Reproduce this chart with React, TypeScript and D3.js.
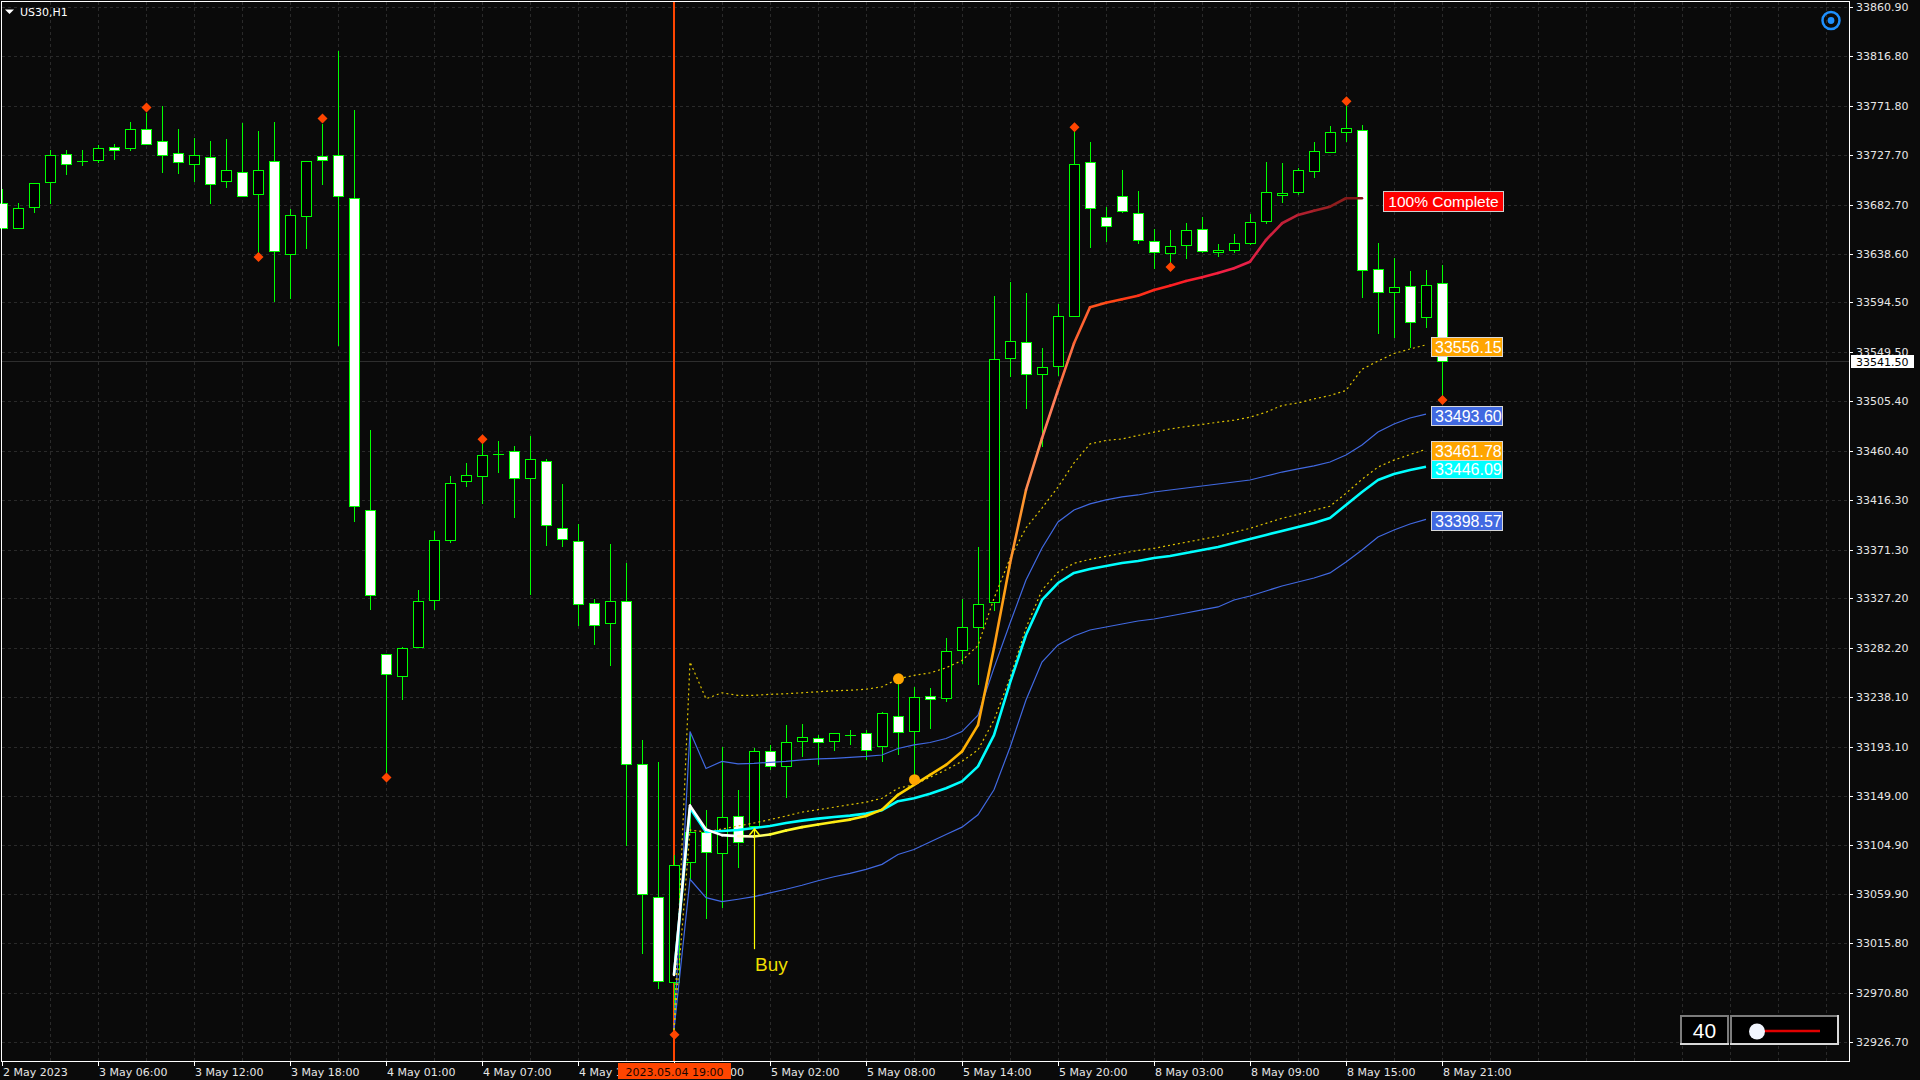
import React from "react";
import * as d3 from "d3";

// ---------- DATA ----------
const opens = [33684.3,33661.6,33680.4,33703.2,33728.5,33722.3,33722.9,33735.1,33733.8,33751.3,
33740.4,33729.8,33719.3,33725.9,33704.4,33711.9,33692.3,33722.0,33638.0,33672.9,
33726.4,33727.6,33688.3,33407.4,33276.9,33257.6,33283.7,33325.4,33379.9,33433.5,
33437.5,33457.8,33460.0,33436.0,33451.6,33391.1,33379.1,33322.9,33304.7,33324.7,
33177.4,33057.7,32981.2,33089.3,33116.2,33097.4,33131.1,33121.7,33189.0,33176.0,
33198.9,33201.1,33198.9,33204.3,33205.6,33193.5,33221.3,33207.9,33239.3,33237.5,
33280.2,33301.3,33324.2,33544.0,33558.4,33530.1,33537.3,33582.5,33721.5,33671.6,
33690.5,33675.2,33649.9,33638.8,33646.0,33661.0,33639.7,33641.5,33647.8,33668.0,
33691.2,33693.9,33713.1,33730.3,33748.0,33750.4,33624.4,33603.6,33609.0,33581.0,
33612.0];
const highs = [33696.6,33683.9,33702.7,33732.5,33732.5,33732.5,33736.4,33737.3,33757.0,33765.7,
33771.4,33751.3,33742.5,33739.9,33741.6,33756.1,33749.6,33757.0,33679.1,33722.4,
33755.6,33821.4,33768.2,33479.3,33277.2,33283.4,33335.2,33388.5,33437.5,33449.5,
33466.5,33469.4,33464.4,33473.8,33453.4,33430.2,33394.7,33326.5,33376.5,33359.6,
33199.2,33179.3,33095.6,33206.1,33136.5,33192.6,33154.4,33191.7,33194.9,33212.8,
33213.7,33203.8,33206.1,33208.3,33208.3,33224.9,33254.6,33247.4,33246.5,33291.4,
33326.4,33373.2,33600.3,33612.9,33603.0,33553.0,33592.8,33748.6,33739.0,33680.9,
33713.7,33695.3,33661.0,33660.1,33666.4,33671.8,33647.5,33656.0,33674.6,33721.0,
33720.1,33716.1,33739.3,33753.7,33772.1,33754.6,33648.4,33634.3,33622.8,33623.7,
33628.2];
const lows = [33660.7,33660.3,33675.2,33683.5,33709.3,33717.6,33720.2,33722.9,33731.6,33737.3,
33711.5,33710.1,33703.2,33683.5,33697.9,33690.0,33638.8,33595.1,33597.3,33642.3,
33700.6,33554.8,33396.5,33317.1,33167.2,33235.4,33283.0,33316.3,33376.9,33427.7,
33412.1,33440.4,33399.8,33330.1,33374.4,33373.3,33302.6,33284.8,33266.6,33103.8,
33006.5,32974.2,32935.0,33073.6,33037.7,33048.0,33083.5,33104.6,33172.4,33146.8,
33183.7,33176.9,33189.0,33194.9,33181.4,33179.2,33185.8,33163.5,33209.7,33234.0,
33268.0,33248.8,33316.1,33527.4,33498.2,33464.2,33528.0,33581.5,33643.9,33649.3,
33674.9,33646.9,33624.9,33629.8,33633.9,33638.8,33635.7,33639.1,33646.6,33665.0,
33683.9,33691.2,33706.5,33729.8,33739.3,33598.2,33565.7,33562.1,33553.0,33571.1,
33507.9];
const closes = [33661.6,33679.5,33702.3,33727.6,33719.3,33721.8,33734.2,33732.1,33751.3,33737.8,
33727.6,33721.5,33727.2,33701.4,33714.1,33690.4,33714.1,33641.1,33673.4,33722.0,
33723.3,33690.4,33411.0,33330.1,33258.7,33282.3,33324.7,33380.2,33431.7,33438.3,
33456.3,33457.6,33436.0,33453.4,33393.6,33380.9,33322.2,33302.9,33324.7,33177.4,
33060.6,32981.9,33086.7,33116.2,33098.3,33129.8,33107.3,33189.0,33175.6,33198.0,
33202.0,33198.0,33205.6,33203.8,33190.4,33223.6,33207.0,33238.4,33236.6,33279.3,
33301.3,33321.9,33543.8,33559.4,33529.6,33535.9,33581.9,33719.7,33679.7,33663.5,
33677.0,33650.8,33639.7,33645.4,33659.8,33640.6,33641.8,33648.4,33667.1,33694.4,
33693.5,33713.7,33730.9,33748.0,33752.2,33623.5,33603.6,33608.1,33576.5,33610.2,
33541.5];

const timeLabelBars = [0,6,12,18,24,30,36,42,48,54,60,66,72,78,84,90];
const timeLabels = ["2 May 2023","3 May 06:00","3 May 12:00","3 May 18:00","4 May 01:00","4 May 07:00",
"4 May 13:00","4 May 19:00","5 May 02:00","5 May 08:00","5 May 14:00","5 May 20:00",
"8 May 03:00","8 May 09:00","8 May 15:00","8 May 21:00"];
// parts of the time labels left visible around the anchor-date box
const visibleLabelText = ["2 May 2023","3 May 06:00","3 May 12:00","3 May 18:00","4 May 01:00","4 May 07:00",
"4 May 1","00","5 May 02:00","5 May 08:00","5 May 14:00","5 May 20:00",
"8 May 03:00","8 May 09:00","8 May 15:00","8 May 21:00"];
const priceTicks = [33860.9,33816.8,33771.8,33727.7,33682.7,33638.6,33594.5,33549.5,33505.4,33460.4,
33416.3,33371.3,33327.2,33282.2,33238.1,33193.1,33149.0,33104.9,33059.9,33015.8,32970.8,32926.7];

// indicator lines start at the anchor bar
const lineStart = 42;
const upperBand = [32937.5,33207.0,33173.7,33180.1,33177.8,33178.3,33179.2,33180.1,33181.4,33182.3,
33182.8,33183.6,33184.5,33185.8,33191.7,33194.9,33197.1,33200.7,33207.0,33221.8,
33264.5,33304.8,33343.8,33372.7,33396.2,33407.0,33412.5,33416.1,33418.8,33420.6,
33423.3,33425.1,33426.9,33428.7,33430.5,33432.3,33434.1,33437.7,33441.3,33444.1,
33446.8,33450.4,33456.7,33465.7,33477.5,33484.7,33490.1,33493.6];
const vwapLine = [32987.2,33138.0,33116.3,33117.2,33118.1,33119.9,33121.7,33124.4,33126.6,33128.4,
33129.8,33131.1,33132.9,33136.0,33144.1,33146.8,33150.8,33155.8,33162.0,33175.6,
33203.8,33251.0,33294.2,33325.8,33341.1,33350.2,33353.8,33356.5,33359.2,33361.0,
33363.7,33365.5,33368.2,33370.9,33373.6,33377.2,33380.9,33384.5,33388.1,33391.7,
33395.3,33399.8,33411.6,33423.3,33434.1,33439.5,33443.2,33446.09];
const lowerDotted = [32937.5,33118.1,33116.3,33119.0,33121.7,33124.4,33127.5,33130.7,33134.3,33136.5,
33138.7,33141.0,33143.2,33146.8,33155.8,33158.9,33165.7,33172.4,33180.1,33190.4,
33217.4,33255.4,33300.5,33334.8,33350.9,33358.9,33362.5,33365.2,33367.9,33370.6,
33372.4,33375.2,33377.9,33380.6,33383.3,33386.9,33390.5,33395.0,33399.5,33403.1,
33406.8,33410.4,33422.1,33434.8,33445.8,33452.1,33457.1,33461.78];
const upperDotted = [32937.5,33269.8,33236.6,33242.0,33239.7,33239.7,33240.6,33241.1,33242.0,33242.9,
33243.8,33244.3,33245.2,33247.4,33254.6,33257.7,33260.0,33264.5,33271.2,33284.7,
33327.3,33363.3,33390.8,33408.8,33427.8,33449.5,33466.7,33469.8,33471.2,33474.3,
33477.3,33480.2,33482.4,33484.2,33486.3,33488.1,33490.8,33495.3,33501.4,33503.7,
33507.3,33510.4,33514.9,33534.1,33541.5,33548.3,33552.4,33556.15];
const lowerBand = [32937.5,33073.6,33057.0,33053.4,33055.6,33057.9,33061.4,33064.6,33068.2,33072.3,
33075.9,33079.0,33082.6,33087.1,33096.0,33100.5,33107.3,33114.1,33120.7,33131.9,
33154.4,33192.6,33235.5,33269.8,33285.2,33293.3,33298.7,33301.4,33304.1,33306.8,
33308.6,33311.3,33314.0,33316.8,33319.5,33325.8,33329.4,33333.9,33338.4,33342.0,
33345.6,33350.2,33360.1,33370.9,33382.7,33389.0,33394.4,33398.57];
const progressLine = [32987.2,33140.1,33118.5,33113.5,33112.6,33112.2,33114.0,33117.6,33120.7,33123.0,
33125.3,33127.5,33130.7,33136.5,33149.9,33158.9,33167.9,33176.9,33189.0,33212.8,
33282.4,33358.7,33425.1,33471.8,33515.4,33557.5,33590.0,33594.2,33597.3,33600.5,
33605.7,33609.6,33613.8,33617.1,33621.0,33625.3,33631.2,33650.8,33665.9,33673.4,
33677.3,33680.9,33688.5,33688.5];

const fractalBars = [9,16,20,24,30,42,67,73,84,90];
const fractalPrices = [33770.5,33635.4,33760.5,33165.4,33470.9,32933.3,33752.6,33626.4,33776.0,33506.4];
const signalBars = [56,57];
const signalPrices = [33254.6,33163.5];
const buyBar = 47;
const buyTop = 33119.0;
const buyBottom = 33010.5;
const currentPrice = 33541.5;
const anchorBar = 42;
const anchorText = "2023.05.04 19:00";
const labelValues = [33446.09, 33398.57, 33493.60, 33461.78, 33556.15];
const labelTexts = ["33446.09", "33398.57", "33493.60", "33461.78", "33556.15"];
const labelColors = ["#00FFFF", "#4169E1", "#4169E1", "#FFA500", "#FFA500"];
const progressStopBars = [42,46,48,55,60,63,65,67,69,73,77,80,83,85];
const progressStopColors = ["#ffffff","#ffffff","#ffff30","#ffe000","#ffb400","#ff9a1a","#ff8566","#ff6a3a","#ff4a14","#ff1e1e","#f0204a","#c8203c","#962020","#7a1414"];

// ---------- LAYOUT ----------
const W = 1920, H = 1080;
const plotRight = 1849, plotBottom = 1061;
const X = d3.scaleLinear().domain([0, 90]).range([2, 1442]);
const Y = d3.scaleLinear().domain([32926.7, 33860.9]).range([1042, 7.3]);
const axisFont = "'DejaVu Sans', sans-serif";
const boxFont = "'Liberation Sans', Arial, sans-serif";
const GREEN = "#00ff00";

export default function App() {
  const idx = d3.range(opens.length);
  const lineGen = d3.line<number>().x((_, j) => X(lineStart + j)).y((v) => Y(v));
  const progColor = d3.scaleLinear<string>().domain(progressStopBars).range(progressStopColors).interpolate(d3.interpolateRgb);
  const vGrid = d3.range(3, 120, 3).filter((b) => X(b) < plotRight - 2);
  const curY = Y(currentPrice);
  const boxL = X(anchorBar) - 56, boxR = X(anchorBar) + 57;

  return (
    <svg width={W} height={H} style={{ position: "fixed", left: 0, top: 0, display: "block" }}>
      <rect x={0} y={0} width={W} height={H} fill="#0a0a0a" />
      {/* grid */}
      <g stroke="#2a2a2a" strokeDasharray="3,3" shapeRendering="crispEdges">
        {priceTicks.map((p, i) => (
          <line key={"h" + i} x1={2} x2={plotRight} y1={Math.round(Y(p)) + 0.5} y2={Math.round(Y(p)) + 0.5} />
        ))}
        {vGrid.map((b) => (
          <line key={"v" + b} x1={X(b) + 0.5} x2={X(b) + 0.5} y1={2} y2={plotBottom} />
        ))}
      </g>
      {/* current price line */}
      <line x1={2} x2={plotRight} y1={Math.round(curY) + 0.5} y2={Math.round(curY) + 0.5} stroke="#2e2e2e" shapeRendering="crispEdges" />
      {/* anchor vertical line */}
      <line x1={X(anchorBar)} x2={X(anchorBar)} y1={2} y2={plotBottom} stroke="#ff4500" strokeWidth={2} />
      {/* candles */}
      <g shapeRendering="crispEdges">
        {idx.map((i) => {
          const cx = X(i);
          const yo = Y(opens[i]), yc = Y(closes[i]);
          const top = Math.min(yo, yc), bot = Math.max(yo, yc);
          const bull = closes[i] >= opens[i];
          const flat = bot - top < 1.5;
          return (
            <g key={"c" + i}>
              <line x1={cx + 0.5} x2={cx + 0.5} y1={Y(highs[i])} y2={Y(lows[i])} stroke={GREEN} />
              {flat ? (
                <line x1={cx - 5} x2={cx + 6} y1={Math.round(top) + 0.5} y2={Math.round(top) + 0.5} stroke={GREEN} />
              ) : (
                <rect x={cx - 4.5} y={Math.round(top) + 0.5} width={10} height={Math.round(bot) - Math.round(top)} fill={bull ? "#000" : "#fff"} stroke={GREEN} />
              )}
            </g>
          );
        })}
      </g>
      {/* bands */}
      <path d={lineGen(upperBand) || ""} fill="none" stroke="#4169E1" strokeWidth={1.2} />
      <path d={lineGen(lowerBand) || ""} fill="none" stroke="#4169E1" strokeWidth={1.2} />
      <path d={lineGen(upperDotted) || ""} fill="none" stroke="#e0c400" strokeWidth={1.2} strokeDasharray="2,3" />
      <path d={lineGen(lowerDotted) || ""} fill="none" stroke="#e0c400" strokeWidth={1.2} strokeDasharray="2,3" />
      <path d={lineGen(vwapLine) || ""} fill="none" stroke="#00ffff" strokeWidth={2.6} strokeLinejoin="round" />
      {/* progress line */}
      <g strokeWidth={2.6} strokeLinecap="round">
        {progressLine.slice(0, -1).map((v, j) => (
          <line key={"p" + j} x1={X(lineStart + j)} y1={Y(v)} x2={X(lineStart + j + 1)} y2={Y(progressLine[j + 1])} stroke={progColor(lineStart + j + 0.5)} />
        ))}
      </g>
      {/* fractals */}
      {fractalBars.map((b, i) => {
        const cx = X(b) + 0.5, cy = Y(fractalPrices[i]);
        return <polygon key={"f" + i} points={`${cx},${cy - 5} ${cx + 5},${cy} ${cx},${cy + 5} ${cx - 5},${cy}`} fill="#ff4500" />;
      })}
      {/* signal dots */}
      {signalBars.map((b, i) => (
        <ellipse key={"s" + i} cx={X(b) + 0.5} cy={Y(signalPrices[i])} rx={5.5} ry={5.5} fill="#ffa500" />
      ))}
      {/* buy arrow */}
      <line x1={X(buyBar) + 0.5} x2={X(buyBar) + 0.5} y1={Y(buyTop)} y2={Y(buyBottom)} stroke="#ffff00" strokeWidth={1.2} />
      <polyline points={`${X(buyBar) - 4.5},${Y(buyTop) + 6} ${X(buyBar) + 0.5},${Y(buyTop)} ${X(buyBar) + 5.5},${Y(buyTop) + 6}`} fill="none" stroke="#ffff00" strokeWidth={1.5} />
      <text x={X(buyBar) + 1} y={Y(buyBottom) + 22} fill="#eedd00" fontFamily={boxFont} fontSize={19}>Buy</text>
      {/* 100% Complete */}
      <rect x={1383.5} y={191.5} width={120} height={20} fill="#ff0000" stroke="#d0d0d0" />
      <text x={1443.5} y={207} fill="#ffffff" fontFamily={boxFont} fontSize={15.5} textAnchor="middle">100% Complete</text>
      {/* value labels */}
      {labelValues.map((v, i) => {
        const top = Math.round(Y(v) - 8) + 0.5;
        return (
          <g key={"l" + i}>
            <rect x={1431.5} y={top} width={71} height={19} fill={labelColors[i]} stroke="#d8d8d8" />
            <text x={1435} y={top + 15.5} fill="#ffffff" fontFamily={boxFont} fontSize={16}>{labelTexts[i]}</text>
          </g>
        );
      })}
      {/* frame */}
      <rect x={1.5} y={1.5} width={plotRight - 1.5} height={plotBottom - 1.5} fill="none" stroke="#ffffff" shapeRendering="crispEdges" />
      {/* right axis */}
      <g fontFamily={axisFont} fontSize={11} fill="#e6e6e6">
        {priceTicks.map((p, i) => (
          <g key={"pt" + i}>
            <line x1={plotRight} x2={plotRight + 4} y1={Math.round(Y(p)) + 0.5} y2={Math.round(Y(p)) + 0.5} stroke="#ffffff" shapeRendering="crispEdges" />
            <text x={1856} y={Y(p) + 4}>{p.toFixed(2)}</text>
          </g>
        ))}
      </g>
      <rect x={1851} y={Math.round(curY) - 6} width={63} height={13} fill="#ffffff" />
      <text x={1856} y={curY + 4.5} fontFamily={axisFont} fontSize={11} fill="#000000">{currentPrice.toFixed(2)}</text>
      {/* bottom axis */}
      <g fontFamily={axisFont} fontSize={11} fill="#e6e6e6">
        {timeLabelBars.map((b, i) => {
          const hiddenHead = timeLabels[i] !== visibleLabelText[i] && !timeLabels[i].startsWith(visibleLabelText[i]);
          return (
            <g key={"tl" + i}>
              <line x1={X(b) + 0.5} x2={X(b) + 0.5} y1={plotBottom} y2={plotBottom + 5} stroke="#ffffff" shapeRendering="crispEdges" />
              <text x={hiddenHead ? boxR - 1 : X(b) + 1} y={1076}>{visibleLabelText[i]}</text>
            </g>
          );
        })}
      </g>
      <rect x={boxL} y={1063} width={boxR - boxL} height={16} fill="#ff4500" />
      <text x={X(anchorBar) + 0.5} y={1076} textAnchor="middle" fontFamily={axisFont} fontSize={11} fill="#1a0500">{anchorText}</text>
      {/* symbol */}
      <polygon points="5,9.5 14,9.5 9.5,14" fill="#ffffff" />
      <text x={20} y={16} fontFamily={axisFont} fontSize={11} fill="#ffffff">US30,H1</text>
      {/* target icon */}
      <circle cx={1831} cy={20.5} r={8.5} fill="none" stroke="#1e90ff" strokeWidth={2.5} />
      <circle cx={1831} cy={20.5} r={3.4} fill="#1e90ff" />
      {/* widget */}
      <rect x={1681} y={1016} width={47} height={28} fill="#000" stroke="#7c7c7c" strokeWidth={2} />
      <line x1={1680} x2={1729} y1={1044} y2={1044} stroke="#d8d8d8" strokeWidth={2} />
      <text x={1704.5} y={1038} textAnchor="middle" fontFamily={boxFont} fontSize={21} fill="#ffffff">40</text>
      <rect x={1731} y={1016} width={107} height={28} fill="#000" stroke="#7c7c7c" strokeWidth={2} />
      <line x1={1730} x2={1839} y1={1044} y2={1044} stroke="#d8d8d8" strokeWidth={2} />
      <line x1={1838} x2={1838} y1={1015} y2={1045} stroke="#d8d8d8" strokeWidth={2} />
      <line x1={1764} x2={1820} y1={1031} y2={1031} stroke="#e00000" strokeWidth={2.5} />
      <circle cx={1757} cy={1031.5} r={8} fill="#f2f6ff" />
    </svg>
  );
}
